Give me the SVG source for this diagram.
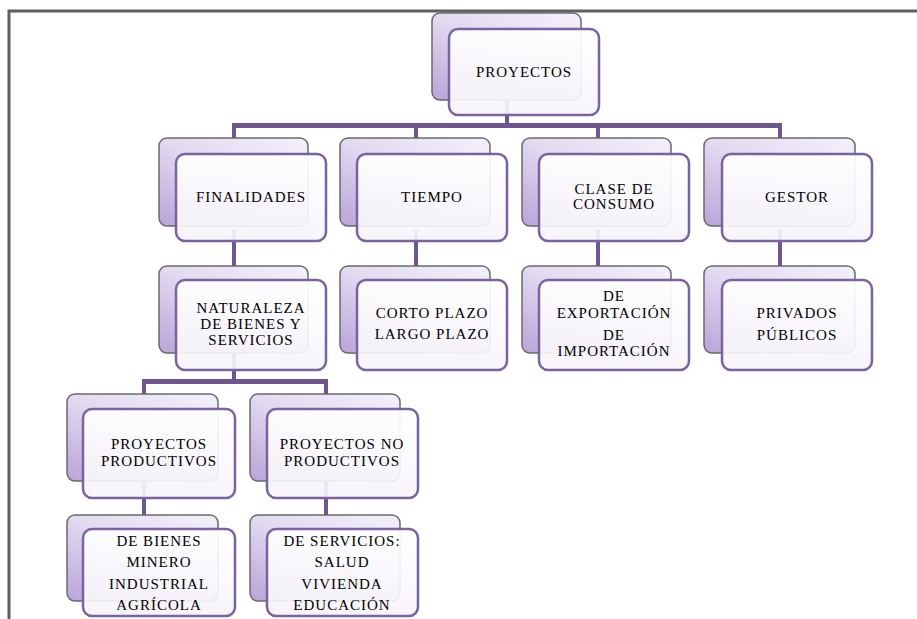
<svg xmlns="http://www.w3.org/2000/svg" width="917" height="619" viewBox="0 0 917 619">
<defs>
<linearGradient id="bg" x1="1" y1="0" x2="0" y2="1">
<stop offset="0" stop-color="#f4f1fa"/>
<stop offset="0.5" stop-color="#e2daf0"/>
<stop offset="1" stop-color="#b9a3d8"/>
</linearGradient>
<linearGradient id="fg" x1="0" y1="0" x2="0" y2="1">
<stop offset="0" stop-color="#ffffff"/>
<stop offset="1" stop-color="#f6f4fa"/>
</linearGradient>
<style>
.back{fill:url(#bg);stroke:#6a6a6a;stroke-width:1.5}
.front{fill:url(#fg);fill-opacity:0.92;stroke:#7a63a0;stroke-width:2.5}
text{font-family:"Liberation Serif",serif;font-size:15px;letter-spacing:1px;fill:#000;text-anchor:middle}
.c{stroke:#6e5690;fill:none}
.frame{stroke:#5f5f5f;stroke-width:3;fill:none}
</style>
</defs>
<rect width="917" height="619" fill="#ffffff"/>
<path class="frame" d="M9,619 V11 H917"/>
<g id="connectors">
<path class="c" stroke-width="4" d="M507,60 V125"/>
<path class="c" stroke-width="5" d="M232,125.5 H782"/>
<path class="c" stroke-width="4" d="M234,125 V180 M416,125 V180 M598,125 V180 M780,125 V180"/>
<path class="c" stroke-width="4" d="M234,230 V300 M416,230 V300 M598,230 V300 M780,230 V300"/>
<path class="c" stroke-width="4" d="M234,330 V381"/>
<path class="c" stroke-width="5" d="M142,381.5 H328"/>
<path class="c" stroke-width="4" d="M144,381 V420 M326,381 V420"/>
<path class="c" stroke-width="4" d="M144,460 V540 M326,460 V540"/>
</g>
<g font-family="Liberation Serif, serif">
<g id="n-proyectos">
<rect class="back" x="432" y="13" width="149" height="87" rx="8"/>
<rect class="front" x="449" y="29" width="150" height="86" rx="9"/>
<text x="524" y="77">PROYECTOS</text>
</g>
<g id="n-finalidades">
<rect class="back" x="159" y="138" width="149" height="88" rx="8"/>
<rect class="front" x="176" y="154" width="150" height="87" rx="9"/>
<text x="251" y="202">FINALIDADES</text>
</g>
<g id="n-tiempo">
<rect class="back" x="340" y="138" width="150" height="88" rx="8"/>
<rect class="front" x="357" y="154" width="150" height="87" rx="9"/>
<text x="432" y="202">TIEMPO</text>
</g>
<g id="n-clase">
<rect class="back" x="522" y="138" width="149" height="88" rx="8"/>
<rect class="front" x="539" y="154" width="150" height="87" rx="9"/>
<text x="614" y="194">CLASE DE</text>
<text x="614" y="209">CONSUMO</text>
</g>
<g id="n-gestor">
<rect class="back" x="704" y="138" width="151" height="88" rx="8"/>
<rect class="front" x="722" y="154" width="150" height="87" rx="9"/>
<text x="797" y="202">GESTOR</text>
</g>
<g id="n-naturaleza">
<rect class="back" x="159" y="266" width="149" height="87" rx="8"/>
<rect class="front" x="176" y="280" width="150" height="90" rx="9"/>
<text x="251" y="313">NATURALEZA</text>
<text x="251" y="329">DE BIENES Y</text>
<text x="251" y="345">SERVICIOS</text>
</g>
<g id="n-plazo">
<rect class="back" x="340" y="266" width="150" height="87" rx="8"/>
<rect class="front" x="357" y="280" width="150" height="90" rx="9"/>
<text x="432" y="318">CORTO PLAZO</text>
<text x="432" y="339">LARGO PLAZO</text>
</g>
<g id="n-comercio">
<rect class="back" x="522" y="266" width="149" height="87" rx="8"/>
<rect class="front" x="539" y="280" width="150" height="90" rx="9"/>
<text x="614" y="301">DE</text>
<text x="614" y="318">EXPORTACIÓN</text>
<text x="614" y="340">DE</text>
<text x="614" y="356">IMPORTACIÓN</text>
</g>
<g id="n-privados">
<rect class="back" x="704" y="266" width="151" height="87" rx="8"/>
<rect class="front" x="722" y="280" width="150" height="90" rx="9"/>
<text x="797" y="318">PRIVADOS</text>
<text x="797" y="340">PÚBLICOS</text>
</g>
<g id="n-productivos">
<rect class="back" x="67" y="394" width="151" height="87" rx="8"/>
<rect class="front" x="83" y="409" width="152" height="89" rx="9"/>
<text x="159" y="449">PROYECTOS</text>
<text x="159" y="466">PRODUCTIVOS</text>
</g>
<g id="n-noproductivos">
<rect class="back" x="250" y="394" width="150" height="87" rx="8"/>
<rect class="front" x="267" y="409" width="151" height="89" rx="9"/>
<text x="342" y="449">PROYECTOS NO</text>
<text x="342" y="466">PRODUCTIVOS</text>
</g>
<g id="n-bienes">
<rect class="back" x="67" y="515" width="151" height="86" rx="8"/>
<rect class="front" x="83" y="529" width="152" height="87" rx="9"/>
<text x="159" y="546">DE BIENES</text>
<text x="159" y="567">MINERO</text>
<text x="159" y="589">INDUSTRIAL</text>
<text x="159" y="610">AGRÍCOLA</text>
</g>
<g id="n-servicios">
<rect class="back" x="250" y="515" width="150" height="86" rx="8"/>
<rect class="front" x="267" y="529" width="151" height="87" rx="9"/>
<text x="342" y="546">DE SERVICIOS:</text>
<text x="342" y="567">SALUD</text>
<text x="342" y="589">VIVIENDA</text>
<text x="342" y="610">EDUCACIÓN</text>
</g>
</g>
</svg>
